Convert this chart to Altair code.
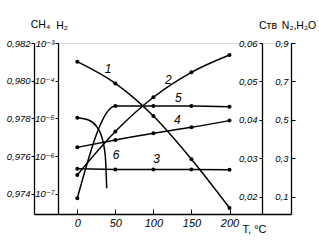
import altair as alt
import pandas as pd

# ---------------- data ----------------
T = [0, 50, 100, 150, 200]
ch4_1 = [0.98101, 0.97986, 0.97813, 0.97584, 0.97326]      # curve 1 (CH4 axis)
h2_2 = [3.2e-7, 4.5e-6, 3.65e-5, 1.67e-4, 4.8e-4]          # curve 2 (H2 axis)
n2_3 = [0.245, 0.242, 0.241, 0.241, 0.240]                 # curve 3 (N2,H2O axis)
h2o_4 = [0.357, 0.395, 0.430, 0.461, 0.496]                # curve 4 (N2,H2O axis)
c_5 = [0.0196, 0.0436, 0.0436, 0.0436, 0.0434]             # curve 5 (Cтв axis)
T6 = [0, 14.5, 25.5, 32, 35.5, 37.3, 38.6]                 # curve 6 (CH4 axis)
ch4_6 = [0.97804, 0.97792, 0.97757, 0.97704, 0.97642, 0.97571, 0.97430]

# curve numbers, placed in the data space of their own axis
lab_ch4 = ["1", "6"]
lab_ch4_T = [40.4, 50.9]
lab_ch4_v = [0.98062, 0.97607]
lab_h2 = ["2"]
lab_h2_T = [119.6]
lab_h2_v = [1.05e-4]
lab_c = ["5"]
lab_c_T = [132.7]
lab_c_v = [0.04561]
lab_n2 = ["4", "3"]
lab_n2_T = [131.4, 104.3]
lab_n2_v = [0.499, 0.2947]

# axis ticks
x_ticks = [0, 50, 100, 150, 200]
ch4_ticks = [0.974, 0.976, 0.978, 0.980, 0.982]
h2_ticks = [1e-7, 1e-6, 1e-5, 1e-4, 1e-3]
c_ticks = [0.02, 0.03, 0.04, 0.05, 0.06]
n2_ticks = [0.1, 0.3, 0.5, 0.7, 0.9]

# ---------------- tables ----------------
def lines(parts):
    rows = []
    for name, ts, vs in parts:
        rows += [{"s": name, "T": t, "v": v} for t, v in zip(ts, vs)]
    return pd.DataFrame(rows)

def labels(names, ts, vs):
    return pd.DataFrame({"lab": names, "T": ts, "v": vs})

ch4_lines = lines([("1", T, ch4_1), ("6", T6, ch4_6)])
ch4_pts = lines([("1", T, ch4_1), ("6", T6[:1], ch4_6[:1])])
h2_lines = lines([("2", T, h2_2)])
c_lines = lines([("5", T, c_5)])
n2_lines = lines([("3", T, n2_3), ("4", T, h2o_4)])

FONT = "Liberation Sans Narrow, Liberation Sans, DejaVu Sans, sans-serif"
W, H = 257, 171
x_scale = alt.Scale(domain=[-56.9, 280.8], nice=False, zero=False)

common = dict(grid=False, domainColor="black", domainWidth=1.3, tickColor="black",
              tickWidth=1, labelColor="black", labelFont=FONT, labelFontStyle="italic",
              labelFontSize=9.5, labelOverlap=False, labelFlush=False, labelBound=False,
              titleFont=FONT, titleFontSize=10.5, titleFontWeight="normal", titleColor="black",
              titleAngle=0, titleAlign="center", titleBaseline="middle")

x_axis_main = alt.Axis(values=x_ticks, orient="bottom", ticks=False, tickSize=0, labelPadding=3,
                       labelFontSize=11, labelBaseline="top", title="T, °C",
                       titleX=220, titleY=15, titleFontSize=11,
                       **{k: v for k, v in common.items() if k not in ("labelFontSize", "titleFontSize")})
x_axis_ticks = alt.Axis(values=x_ticks, orient="top", offset=-H, ticks=True, tickSize=5,
                        tickColor="black", tickWidth=1, labels=False, domain=False, grid=False,
                        title=None)

def group(line_df, pt_df, lab_df, yscale, yaxis, xaxis):
    x = alt.X("T:Q", scale=x_scale, axis=xaxis)
    y = alt.Y("v:Q", scale=yscale, axis=yaxis)
    ln = alt.Chart(line_df).mark_line(color="black", strokeWidth=1.5,
                                      interpolate="monotone").encode(x=x, y=y, detail="s:N")
    pt = alt.Chart(pt_df).mark_circle(color="black", size=16, opacity=1).encode(x=x, y=y)
    tx = alt.Chart(lab_df).mark_text(font=FONT, fontSize=12, fontStyle="italic",
                                     color="black").encode(x=x, y=y, text="lab:N")
    return alt.layer(ln, pt, tx)

ch4_axis = alt.Axis(values=ch4_ticks, format=".3f", labelExpr="replace(datum.label, '.', ',')",
                    orient="left", offset=0, tickSize=3, labelPadding=1,
                    title="CH₄", titleX=6, titleY=-19, **common)
h2_axis = alt.Axis(values=h2_ticks,
                   labelExpr="'10⁻' + ['⁰','¹','²','³','⁴','⁵','⁶','⁷','⁸','⁹'][round(-log(datum.value)/LN10)]",
                   orient="left", offset=-24, tickSize=3, labelPadding=1,
                   title="H₂", titleX=3.5, titleY=-18, **common)
c_axis = alt.Axis(values=c_ticks, format=".2f", labelExpr="replace(datum.label, '.', ',')",
                  orient="left", offset=-228, tickSize=3, labelPadding=2,
                  title="Cтв", titleX=5.5, titleY=-18, **common)
n2_axis = alt.Axis(values=n2_ticks, format=".1f", labelExpr="replace(datum.label, '.', ',')",
                   orient="right", offset=0, tickSize=4, labelPadding=-7, labelAlign="right",
                   title="N₂,H₂O", titleX=7.5, titleY=-18, **common)

g_ch4 = group(ch4_lines, ch4_pts, labels(lab_ch4, lab_ch4_T, lab_ch4_v),
              alt.Scale(domain=[0.97294, 0.982], nice=False, zero=False), ch4_axis, x_axis_main)
g_h2 = group(h2_lines, h2_lines, labels(lab_h2, lab_h2_T, lab_h2_v),
             alt.Scale(type="log", domain=[2.95e-8, 1e-3], nice=False), h2_axis, x_axis_ticks)
g_c = group(c_lines, c_lines, labels(lab_c, lab_c_T, lab_c_v),
            alt.Scale(domain=[0.0155, 0.06], nice=False, zero=False), c_axis, None)
g_n2 = group(n2_lines, n2_lines, labels(lab_n2, lab_n2_T, lab_n2_v),
             alt.Scale(domain=[0.01, 0.9], nice=False, zero=False), n2_axis, None)

chart = (
    alt.layer(g_ch4, g_h2, g_c, g_n2)
    .resolve_scale(y="independent")
    .resolve_axis(x="independent", y="independent")
    .properties(width=W, height=H,
                autosize=alt.AutoSizeParams(type="none"),
                padding={"left": 34, "top": 43, "right": 28, "bottom": 26})
    .configure_view(stroke=None)
    .configure(background="white")
)

chart.save("out.html", embed_options={"renderer": "svg", "actions": False})
